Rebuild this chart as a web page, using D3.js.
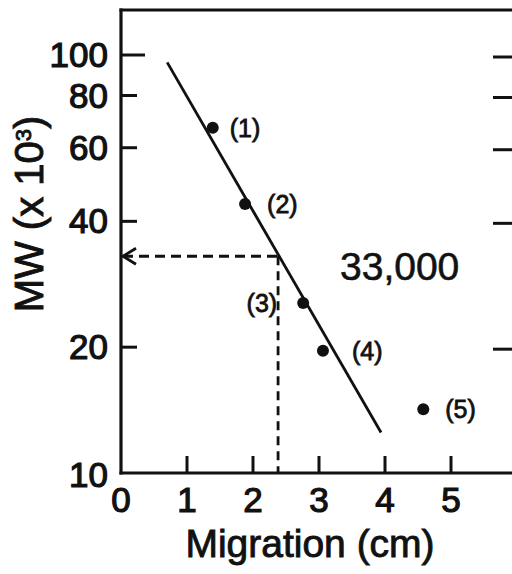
<!DOCTYPE html>
<html><head><meta charset="utf-8">
<script src="https://cdn.jsdelivr.net/npm/d3@7"></script>
<style>
html,body{margin:0;padding:0;background:#fff;}
svg{display:block;font-family:"Liberation Sans",Arial,sans-serif;}
</style></head>
<body>
<svg id="c" width="512" height="574"></svg>
<script>
// ---- data ----
const migration = [1.39, 1.88, 2.76, 3.06, 4.58];
const mw = [67, 44, 25.5, 19.6, 14.2];
const pointLabels = ["(1)", "(2)", "(3)", "(4)", "(5)"];
const fitLineX = [0.70, 3.94];
const fitLineY = [96, 12.5];
const unknownX = [2.38];
const unknownMW = [33];
const unknownLabel = ["33,000"];
const xTicks = [0, 1, 2, 3, 4, 5];
const yTicks = [10, 20, 40, 60, 80, 100];
const xTitle = "Migration (cm)";

// ---- layout ----
const svg = d3.select("#c");
const L = 121, T = 10, R = 514, B = 473;
const x = d3.scaleLinear().domain([0, (R - L) / 66]).range([L, R]);
const y = d3.scaleLog().domain([10, Math.pow(10, 1 + (B - T) / 418)]).range([B, T]);
const ink = "#111";

// frame
svg.append("line").attr("x1", L).attr("x2", L).attr("y1", T - 1.5).attr("y2", B + 1.5)
  .attr("stroke", ink).attr("stroke-width", 3.2);
svg.append("line").attr("x1", L - 1.5).attr("x2", 512).attr("y1", T).attr("y2", T)
  .attr("stroke", ink).attr("stroke-width", 3.2);
svg.append("line").attr("x1", L - 1.5).attr("x2", 512).attr("y1", B).attr("y2", B)
  .attr("stroke", ink).attr("stroke-width", 3.2);

// left y ticks (inward)
const yt = yTicks.filter(d => d > 10);
svg.selectAll(".ylt").data(yt).enter().append("line")
  .attr("x1", L).attr("x2", d => d === 100 ? L + 24 : L + 16)
  .attr("y1", d => y(d)).attr("y2", d => y(d))
  .attr("stroke", ink).attr("stroke-width", 3);
// right y ticks (inward from right frame off-page)
svg.selectAll(".yrt").data(yt).enter().append("line")
  .attr("x1", 493).attr("x2", 512)
  .attr("y1", d => y(d) + 2).attr("y2", d => y(d) + 2)
  .attr("stroke", ink).attr("stroke-width", 3);
// y tick labels
svg.selectAll(".ytl").data(yTicks).enter().append("text")
  .attr("x", 108).attr("y", d => y(d) + (d === 10 ? 14 : 12))
  .attr("text-anchor", "end").attr("font-size", 35).attr("fill", ink)
  .attr("stroke", ink).attr("stroke-width", 1.2)
  .text(d => d);

// x ticks (inward)
svg.selectAll(".xt").data(xTicks.filter(d => d > 0)).enter().append("line")
  .attr("x1", d => x(d)).attr("x2", d => x(d))
  .attr("y1", B).attr("y2", B - 17)
  .attr("stroke", ink).attr("stroke-width", 3);
svg.selectAll(".xtl").data(xTicks).enter().append("text")
  .attr("x", d => x(d)).attr("y", 512)
  .attr("text-anchor", "middle").attr("font-size", 35).attr("fill", ink)
  .attr("stroke", ink).attr("stroke-width", 1.2)
  .text(d => d);

// axis titles
svg.append("text").attr("x", 310).attr("y", 557).attr("text-anchor", "middle")
  .attr("font-size", 39).attr("fill", ink).attr("stroke", ink).attr("stroke-width", 0.9)
  .text(xTitle);
const yt1 = svg.append("text").attr("transform", "translate(43,214) rotate(-90)")
  .attr("text-anchor", "middle").attr("font-size", 40).attr("fill", ink)
  .attr("stroke", ink).attr("stroke-width", 0.9);
yt1.append("tspan").text("MW (x 10");
yt1.append("tspan").attr("font-size", 22).attr("dy", -12).text("3");
yt1.append("tspan").attr("dy", 12).text(")");

// fit line
svg.append("line")
  .attr("x1", x(fitLineX[0])).attr("y1", y(fitLineY[0]))
  .attr("x2", x(fitLineX[1])).attr("y2", y(fitLineY[1]))
  .attr("stroke", ink).attr("stroke-width", 2.8);

// dashed guides
svg.append("line")
  .attr("x1", x(0) + 2).attr("y1", y(unknownMW[0]))
  .attr("x2", x(unknownX[0]) + 3).attr("y2", y(unknownMW[0]))
  .attr("stroke", ink).attr("stroke-width", 2.8).attr("stroke-dasharray", "10,6");
svg.append("line")
  .attr("x1", x(unknownX[0])).attr("y1", y(unknownMW[0]))
  .attr("x2", x(unknownX[0])).attr("y2", B)
  .attr("stroke", ink).attr("stroke-width", 2.8).attr("stroke-dasharray", "9,6");
// arrow head
const ax = x(0) + 1, ay = y(unknownMW[0]);
svg.append("path")
  .attr("d", `M${ax + 14},${ay - 8} L${ax + 1},${ay} L${ax + 14},${ay + 8}`)
  .attr("fill", "none").attr("stroke", ink).attr("stroke-width", 2.8);
svg.append("text").attr("x", 340).attr("y", 280).attr("font-size", 39).attr("fill", ink)
  .attr("stroke", ink).attr("stroke-width", 0.6)
  .text(unknownLabel[0]);

// points
const pts = migration.map((m, i) => ({ m, v: mw[i], lab: pointLabels[i] }));
svg.selectAll(".pt").data(pts).enter().append("circle")
  .attr("cx", d => x(d.m)).attr("cy", d => y(d.v)).attr("r", 6).attr("fill", ink);
const labOff = [17, 22, -26, 29, 22];
svg.selectAll(".pl").data(pts).enter().append("text")
  .attr("x", (d, i) => x(d.m) + labOff[i])
  .attr("y", d => y(d.v) + 9)
  .attr("text-anchor", (d, i) => labOff[i] < 0 ? "end" : "start")
  .attr("font-size", 25).attr("fill", ink).attr("stroke", ink).attr("stroke-width", 0.8)
  .text(d => d.lab);
</script>
</body></html>
